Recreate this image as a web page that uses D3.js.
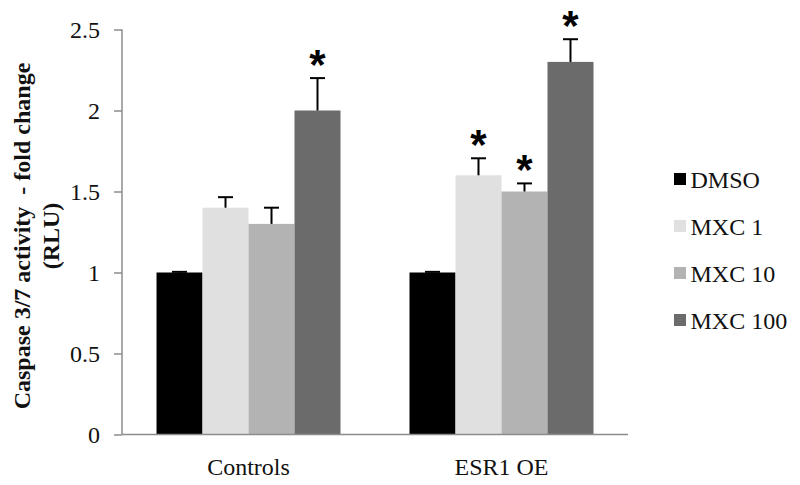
<!DOCTYPE html>
<html><head><meta charset="utf-8">
<script src="https://cdn.jsdelivr.net/npm/d3@7"></script>
<style>body{margin:0;background:#fff}svg{display:block}</style>
</head><body>
<svg id="c" width="800" height="485"></svg>
<script>
const categories = ["Controls", "ESR1 OE"];
const seriesNames = ["DMSO", "MXC 1", "MXC 10", "MXC 100"];
const seriesColors = ["#000000", "#e0e0e0", "#b3b3b3", "#6b6b6b"];
const dmso = [1.0, 1.0];
const mxc1 = [1.4, 1.6];
const mxc10 = [1.3, 1.5];
const mxc100 = [2.0, 2.3];
const errDmso = [0.004, 0.004];
const errMxc1 = [0.065, 0.105];
const errMxc10 = [0.10, 0.05];
const errMxc100 = [0.20, 0.14];
const sigDmso = [false, false];
const sigMxc1 = [false, true];
const sigMxc10 = [false, true];
const sigMxc100 = [true, true];
const yTicks = [0, 0.5, 1, 1.5, 2, 2.5];
const yTickLabels = ["0", "0.5", "1", "1.5", "2", "2.5"];

const values = [dmso, mxc1, mxc10, mxc100];
const errs = [errDmso, errMxc1, errMxc10, errMxc100];
const sigs = [sigDmso, sigMxc1, sigMxc10, sigMxc100];

const svg = d3.select("#c");
const serif = "'Liberation Serif', 'Times New Roman', serif";
const plotLeft = 122, plotRight = 628, plotTop = 29.5, plotBottom = 434.5;

const x0 = d3.scaleBand().domain(categories).range([plotLeft, plotRight]).paddingInner(0.2727).paddingOuter(0.1364);
const x1 = d3.scaleBand().domain(seriesNames).range([0, x0.bandwidth()]);
const y = d3.scaleLinear().domain([0, 2.5]).range([plotBottom, plotTop]);

// y axis
const yAxis = d3.axisLeft(y).tickValues(yTicks).tickFormat((d, i) => yTickLabels[i]).tickSize(8).tickPadding(14);
const gy = svg.append("g").attr("transform", `translate(${plotLeft},0)`).call(yAxis);
gy.select(".domain").attr("stroke", "#8c8c8c").attr("stroke-width", 1.5).attr("d", `M0,${plotTop}V${plotBottom}`);
gy.selectAll(".tick line").attr("stroke", "#8c8c8c").attr("stroke-width", 1.5);
gy.selectAll(".tick text").attr("font-family", serif).attr("font-size", 24).attr("fill", "#111").attr("dy", "0.34em");

// bars
const data = [];
categories.forEach((c, ci) => seriesNames.forEach((s, si) => data.push({c, s, si, v: values[si][ci], e: errs[si][ci], sig: sigs[si][ci]})));

svg.append("g").selectAll("rect").data(data).join("rect")
  .attr("x", d => x0(d.c) + x1(d.s))
  .attr("y", d => y(d.v))
  .attr("width", x1.bandwidth())
  .attr("height", d => y(0) - y(d.v))
  .attr("fill", d => seriesColors[d.si]);

// error bars
const eg = svg.append("g").attr("stroke", "#000").attr("stroke-width", 2);
data.forEach(d => {
  const cx = x0(d.c) + x1(d.s) + x1.bandwidth() / 2;
  eg.append("line").attr("x1", cx).attr("x2", cx).attr("y1", y(d.v)).attr("y2", y(d.v + d.e));
  eg.append("line").attr("x1", cx - 7.5).attr("x2", cx + 7.5).attr("y1", y(d.v + d.e)).attr("y2", y(d.v + d.e));
});

// asterisks
svg.append("g").selectAll("text").data(data.filter(d => d.sig)).join("text")
  .attr("x", d => x0(d.c) + x1(d.s) + x1.bandwidth() / 2)
  .attr("y", d => y(d.v + d.e) + 1)
  .attr("text-anchor", "middle")
  .attr("font-family", "'Liberation Sans', Arial, sans-serif")
  .attr("font-weight", "bold")
  .attr("font-size", 42)
  .attr("fill", "#000")
  .text("*");

// x axis
svg.append("line").attr("x1", plotLeft).attr("x2", plotRight).attr("y1", plotBottom).attr("y2", plotBottom)
  .attr("stroke", "#8c8c8c").attr("stroke-width", 1.5);
svg.append("g").selectAll("text").data(categories).join("text")
  .attr("x", d => x0(d) + x0.bandwidth() / 2)
  .attr("y", 475)
  .attr("text-anchor", "middle")
  .attr("font-family", serif).attr("font-size", 24).attr("fill", "#111")
  .text(d => d);

// y title
const yt = svg.append("text")
  .attr("transform", "translate(0,236) rotate(-90)")
  .attr("text-anchor", "middle")
  .style("white-space", "pre")
  .attr("font-family", serif).attr("font-weight", "bold").attr("font-size", 24).attr("fill", "#111");
yt.append("tspan").attr("x", 0).attr("y", 30).text("Caspase 3/7 activity  - fold change");
yt.append("tspan").attr("x", 0).attr("y", 59).text("(RLU)");

// legend
const lg = svg.append("g").selectAll("g").data(seriesNames).join("g")
  .attr("transform", (d, i) => `translate(674,${179 + i * 47})`);
lg.append("rect").attr("x", 0).attr("y", -6).attr("width", 12).attr("height", 12).attr("fill", (d, i) => seriesColors[i]);
lg.append("text").attr("x", 16.5).attr("y", 8.5)
  .attr("font-family", serif).attr("font-size", 24).attr("fill", "#111").text(d => d);
</script>
</body></html>
